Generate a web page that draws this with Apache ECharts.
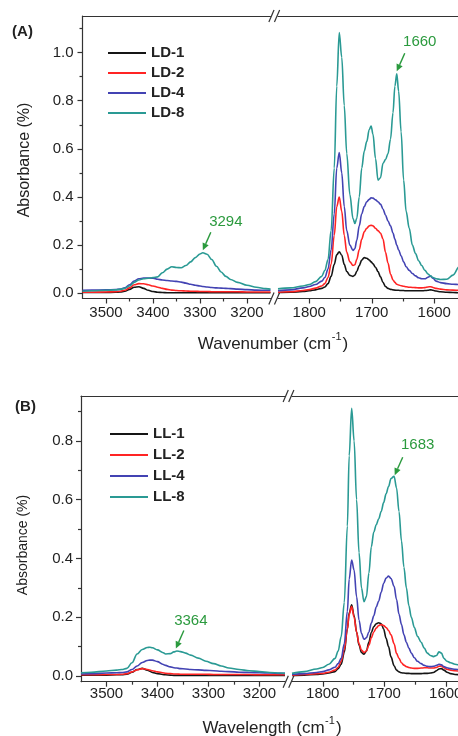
<!DOCTYPE html>
<html><head><meta charset="utf-8">
<script src="https://cdn.jsdelivr.net/npm/echarts@6/dist/echarts.min.js"></script>
<style>html,body{margin:0;padding:0;background:#fff}#c{width:458px;height:736px}</style>
</head><body><div id="c"></div>
<script>
// ---------- DATA ----------
const namesA = ['LD-1','LD-2','LD-4','LD-8'];
const namesB = ['LL-1','LL-2','LL-4','LL-8'];

// Panel A, high-wavenumber segment
const wnA_L = [3550,3530,3500,3480,3470,3460,3450,3440,3430,3420,3410,3400,3390,3380,3370,3360,3350,3340,3330,3320,3310,3300,3294,3285,3275,3265,3255,3245,3235,3220,3200,3180,3160,3150];
const LD1_L = [0.003,0.003,0.003,0.004,0.005,0.008,0.016,0.025,0.027,0.020,0.012,0.007,0.004,0.003,0.002,0.002,0.002,0.002,0.002,0.002,0.002,0.002,0.002,0.002,0.002,0.002,0.002,0.002,0.002,0.002,0.002,0.002,0.002,0.002];
const LD2_L = [0.004,0.004,0.005,0.006,0.008,0.012,0.022,0.035,0.040,0.039,0.035,0.030,0.025,0.020,0.016,0.013,0.011,0.010,0.009,0.008,0.008,0.007,0.007,0.007,0.006,0.006,0.006,0.006,0.006,0.006,0.005,0.005,0.005,0.005];
const LD4_L = [0.012,0.013,0.014,0.015,0.017,0.022,0.035,0.050,0.060,0.063,0.063,0.062,0.058,0.055,0.053,0.051,0.049,0.046,0.042,0.037,0.033,0.030,0.028,0.026,0.024,0.022,0.021,0.020,0.019,0.017,0.015,0.013,0.012,0.012];
const LD8_L = [0.008,0.010,0.012,0.014,0.016,0.020,0.030,0.045,0.055,0.060,0.062,0.065,0.068,0.085,0.100,0.110,0.107,0.106,0.115,0.130,0.148,0.163,0.168,0.162,0.140,0.112,0.088,0.070,0.057,0.045,0.033,0.025,0.019,0.017];

// Panel A, low-wavenumber segment
const wnA_R = [1850,1830,1810,1800,1790,1780,1775,1770,1765,1760,1756,1752,1748,1744,1740,1735,1730,1727,1724,1720,1716,1712,1708,1704,1701,1698,1694,1690,1686,1682,1678,1674,1670,1666,1663,1660,1657,1653,1649,1645,1640,1635,1630,1625,1620,1615,1610,1606,1602,1597,1590,1580,1570,1560,1550];
const LD1_R = [0.003,0.004,0.007,0.010,0.014,0.020,0.026,0.040,0.07,0.12,0.16,0.172,0.158,0.12,0.09,0.074,0.07,0.075,0.09,0.115,0.138,0.148,0.145,0.138,0.13,0.122,0.108,0.09,0.068,0.045,0.028,0.02,0.016,0.014,0.013,0.012,0.012,0.011,0.011,0.01,0.01,0.01,0.01,0.01,0.01,0.011,0.012,0.014,0.012,0.009,0.006,0.004,0.003,0.002,0.002];
const LD2_R = [0.004,0.006,0.011,0.015,0.021,0.030,0.040,0.065,0.12,0.24,0.36,0.40,0.34,0.24,0.17,0.13,0.115,0.118,0.14,0.18,0.225,0.255,0.27,0.28,0.282,0.28,0.27,0.26,0.25,0.225,0.17,0.125,0.08,0.055,0.045,0.037,0.034,0.031,0.029,0.027,0.025,0.024,0.023,0.022,0.022,0.023,0.026,0.027,0.024,0.02,0.017,0.014,0.013,0.012,0.012];
const LD4_R = [0.010,0.014,0.022,0.028,0.036,0.050,0.065,0.10,0.18,0.33,0.52,0.585,0.50,0.36,0.26,0.20,0.178,0.185,0.22,0.28,0.33,0.36,0.38,0.39,0.396,0.395,0.388,0.38,0.37,0.35,0.325,0.30,0.28,0.25,0.225,0.2,0.18,0.155,0.13,0.11,0.095,0.082,0.072,0.064,0.06,0.06,0.066,0.071,0.062,0.05,0.044,0.04,0.037,0.036,0.036];
const LD8_R = [0.018,0.022,0.030,0.036,0.048,0.070,0.095,0.14,0.26,0.52,0.86,1.083,0.98,0.78,0.58,0.41,0.31,0.29,0.31,0.40,0.52,0.59,0.63,0.68,0.695,0.66,0.56,0.47,0.48,0.54,0.555,0.58,0.64,0.75,0.86,0.912,0.84,0.67,0.47,0.34,0.27,0.2,0.165,0.135,0.115,0.095,0.08,0.072,0.065,0.06,0.057,0.058,0.075,0.11,0.15];

// Panel B, high-wavenumber segment
const wnB_L = [3550,3530,3500,3480,3470,3460,3450,3440,3430,3420,3415,3410,3400,3390,3384,3375,3368,3362,3355,3345,3335,3320,3305,3290,3275,3260,3240,3220,3200,3180,3160,3150];
const LL1_L = [0.003,0.003,0.003,0.004,0.004,0.006,0.013,0.022,0.026,0.020,0.016,0.012,0.008,0.005,0.004,0.003,0.002,0.002,0.002,0.002,0.002,0.002,0.002,0.002,0.002,0.002,0.002,0.002,0.002,0.002,0.002,0.002];
const LL2_L = [0.004,0.004,0.005,0.005,0.006,0.008,0.014,0.021,0.025,0.022,0.020,0.018,0.014,0.011,0.009,0.008,0.007,0.007,0.006,0.006,0.006,0.006,0.006,0.005,0.005,0.005,0.005,0.005,0.004,0.004,0.004,0.004];
const LL4_L = [0.007,0.008,0.010,0.011,0.012,0.014,0.022,0.034,0.046,0.053,0.054,0.054,0.049,0.040,0.036,0.031,0.028,0.027,0.025,0.024,0.022,0.021,0.019,0.018,0.016,0.015,0.013,0.012,0.011,0.010,0.009,0.009];
const LL8_L = [0.011,0.013,0.017,0.020,0.022,0.026,0.045,0.075,0.090,0.097,0.098,0.096,0.089,0.080,0.075,0.076,0.082,0.085,0.083,0.078,0.071,0.061,0.050,0.042,0.034,0.027,0.022,0.018,0.015,0.012,0.010,0.009];

// Panel B, low-wavenumber segment
const wnB_R = [1850,1830,1810,1800,1790,1780,1775,1770,1765,1760,1757,1753,1749,1745,1741,1737,1733,1729,1725,1721,1717,1713,1709,1705,1701,1697,1693,1689,1684,1680,1676,1672,1668,1664,1660,1656,1651,1646,1640,1635,1630,1625,1620,1615,1611,1607,1603,1598,1592,1585,1575,1565,1550];
const LL1_R = [0.002,0.003,0.005,0.007,0.01,0.015,0.025,0.04,0.08,0.16,0.215,0.242,0.205,0.15,0.105,0.08,0.074,0.085,0.115,0.148,0.168,0.178,0.181,0.178,0.16,0.128,0.1,0.065,0.035,0.02,0.014,0.011,0.01,0.009,0.009,0.008,0.008,0.008,0.008,0.009,0.009,0.01,0.012,0.018,0.024,0.025,0.02,0.013,0.008,0.005,0.004,0.003,0.003];
const LL2_R = [0.003,0.005,0.008,0.009,0.013,0.020,0.030,0.05,0.09,0.16,0.21,0.236,0.2,0.15,0.11,0.088,0.08,0.085,0.105,0.13,0.15,0.163,0.172,0.175,0.172,0.165,0.155,0.14,0.11,0.077,0.06,0.045,0.037,0.032,0.029,0.027,0.026,0.026,0.027,0.028,0.028,0.027,0.027,0.029,0.033,0.034,0.028,0.023,0.02,0.018,0.016,0.015,0.015];
const LL4_R = [0.005,0.008,0.012,0.015,0.021,0.030,0.042,0.06,0.11,0.22,0.33,0.395,0.36,0.27,0.19,0.145,0.125,0.13,0.15,0.18,0.205,0.235,0.255,0.285,0.315,0.333,0.34,0.332,0.305,0.26,0.21,0.175,0.14,0.115,0.095,0.078,0.062,0.05,0.042,0.036,0.033,0.032,0.033,0.036,0.04,0.038,0.032,0.028,0.025,0.023,0.021,0.02,0.02];
const LL8_R = [0.009,0.015,0.024,0.029,0.040,0.060,0.085,0.134,0.25,0.51,0.75,0.911,0.80,0.60,0.42,0.30,0.253,0.27,0.35,0.44,0.49,0.515,0.535,0.56,0.59,0.62,0.645,0.672,0.68,0.64,0.56,0.46,0.37,0.30,0.24,0.20,0.165,0.135,0.115,0.095,0.078,0.07,0.066,0.07,0.082,0.078,0.06,0.05,0.045,0.04,0.036,0.034,0.034];

// tick labels
const yTicksA = [0, 0.2, 0.4, 0.6, 0.8, 1.0];
const yMinorA = [0.1, 0.3, 0.5, 0.7, 0.9, 1.1];
const yTicksB = [0, 0.2, 0.4, 0.6, 0.8];
const yMinorB = [0.1, 0.3, 0.5, 0.7, 0.9];
const xTicksHigh = [3200, 3300, 3400, 3500];
const xMinorHigh = [3250, 3350, 3450];
const xTicksLow = [1500, 1600, 1700, 1800];
const xMinorLow = [1550, 1650, 1750];

// peak annotations (label = wavenumber, value = absorbance of the marked peak)
const peakWn  = [3294, 1660, 3364, 1683];
const peakVal = [0.168, 0.912, 0.085, 0.675];

// ---------- LAYOUT / STYLE ----------
const FONT = 'Liberation Sans, Arial, sans-serif';
const TXT = '#222';
const AX = '#333';
const colors = ['#151515', '#ff2424', '#4343b3', '#2a9a94'];
const GREEN = '#2b9a3e';

const grids = [
  {left:82.5, top:16,  width:188,    height:282.5, xmin:3150, xmax:3550, ymin:-0.022,  ymax:1.152, xt:xTicksHigh, xm:xMinorHigh, yt:yTicksA, ym:yMinorA, xMargin:7, yMargin:9},
  {left:278,  top:16,  width:218.75, height:282.5, xmin:1500, xmax:1850, ymin:-0.022,  ymax:1.152, xt:xTicksLow,  xm:xMinorLow,  xMargin:7},
  {left:81,   top:396, width:204,    height:285.7, xmin:3150, xmax:3550, ymin:-0.0194, ymax:0.953, xt:xTicksHigh, xm:xMinorHigh, yt:yTicksB, ym:yMinorB, xMargin:5, yMargin:8},
  {left:292,  top:396, width:215.25, height:285.7, xmin:1500, xmax:1850, ymin:-0.0194, ymax:0.953, xt:xTicksLow,  xm:xMinorLow,  xMargin:5}
];

const lineS = {color: AX, width: 1.2};
const xAxis = [], yAxis = [];
const yMainIdx = [];
grids.forEach((g, gi) => {
  xAxis.push({gridIndex:gi, type:'value', inverse:true, min:g.xmin, max:g.xmax, position:'bottom',
    axisLine:{show:true, onZero:false, lineStyle:lineS},
    axisTick:{show:true, inside:false, length:5, customValues:g.xt, lineStyle:lineS},
    axisLabel:{show:true, customValues:g.xt, margin:g.xMargin, color:TXT, fontSize:15, fontFamily:FONT,
      formatter: v => String(Math.round(v)), hideOverlap:false},
    splitLine:{show:false}});
  xAxis.push({gridIndex:gi, type:'value', inverse:true, min:g.xmin, max:g.xmax, position:'bottom',
    axisLine:{show:false, onZero:false},
    axisTick:{show:true, inside:false, length:3, customValues:g.xm, lineStyle:lineS},
    axisLabel:{show:false}, splitLine:{show:false}});
  xAxis.push({gridIndex:gi, type:'value', inverse:true, min:g.xmin, max:g.xmax, position:'top',
    axisLine:{show:true, onZero:false, lineStyle:lineS},
    axisTick:{show:false}, axisLabel:{show:false}, splitLine:{show:false}});
  if (g.yt) {
    yMainIdx.push(yAxis.length);
    yAxis.push({gridIndex:gi, type:'value', min:g.ymin, max:g.ymax, position:'left',
      axisLine:{show:true, onZero:false, lineStyle:lineS},
      axisTick:{show:true, inside:false, length:5, customValues:g.yt, lineStyle:lineS},
      axisLabel:{show:true, customValues:g.yt, margin:g.yMargin, color:TXT, fontSize:15, fontFamily:FONT,
        formatter: v => Number(v).toFixed(1)},
      splitLine:{show:false}});
    yAxis.push({gridIndex:gi, type:'value', min:g.ymin, max:g.ymax, position:'left',
      axisLine:{show:false, onZero:false},
      axisTick:{show:true, inside:false, length:3, customValues:g.ym, lineStyle:lineS},
      axisLabel:{show:false}, splitLine:{show:false}});
  } else {
    yMainIdx.push(yAxis.length);
    yAxis.push({gridIndex:gi, type:'value', min:g.ymin, max:g.ymax, show:false,
      axisLine:{onZero:false}, splitLine:{show:false}});
  }
});

const segs = [
  {g:0, x:wnA_L, names:namesA, ys:[LD1_L, LD2_L, LD4_L, LD8_L]},
  {g:1, x:wnA_R, names:namesA, ys:[LD1_R, LD2_R, LD4_R, LD8_R]},
  {g:2, x:wnB_L, names:namesB, ys:[LL1_L, LL2_L, LL4_L, LL8_L]},
  {g:3, x:wnB_R, names:namesB, ys:[LL1_R, LL2_R, LL4_R, LL8_R]}
];
const series = [];
segs.forEach(s => {
  s.ys.forEach((vals, k) => {
    series.push({
      type:'line', name:s.names[k], xAxisIndex:s.g*3, yAxisIndex:yMainIdx[s.g],
      data: s.x.map((x, i) => [x, vals[i]]),
      showSymbol:false, symbol:'none', smooth:0.35, smoothMonotone:'x',
      color: colors[k], lineStyle:{color:colors[k], width:1.6},
      clip:true, animation:false, silent:true, z: 2 + k
    });
  });
});

const legendBase = {orient:'vertical', icon:'rect', itemWidth:38, itemHeight:2,
  textStyle:{fontSize:15, fontWeight:'bold', color:TXT, fontFamily:FONT, lineHeight:15},
  selectedMode:false, padding:0};

const option = {
  backgroundColor:'#fff',
  animation:false,
  grid: grids.map(g => ({left:g.left, top:g.top, width:g.width, height:g.height,
    containLabel:false, outerBoundsMode:'none'})),
  xAxis, yAxis, series,
  legend: [
    Object.assign({}, legendBase, {data:namesA, left:108, top:45.5, itemGap:5}),
    Object.assign({}, legendBase, {data:namesB, left:110, top:426.5, itemGap:6})
  ]
};

const chart = echarts.init(document.getElementById('c'), null, {renderer:'canvas', width:458, height:736});
chart.setOption(option);

// ---------- decorations: titles, panel letters, axis breaks, peak arrows ----------
const gfx = [];
function txt(x, y, text, size, weight, rot) {
  gfx.push({type:'text', x, y, rotation: rot || 0, silent:true,
    style:{text, fill:TXT, font:(weight||'normal') + ' ' + size + 'px ' + FONT, align:'center', verticalAlign:'middle'}});
}
txt(22.5, 32, '(A)', 15, 'bold');
txt(25.5, 407, '(B)', 15, 'bold');
txt(25, 160, 'Absorbance (%)', 16, 'normal', Math.PI/2);
txt(23, 545, 'Absorbance (%)', 14, 'normal', Math.PI/2);
function xTitle(cx, cy, word, size) {
  // main text + raised superscript placed right after "(cm"
  const main1 = word + ' (cm';
  const sup = '-1';
  const ssize = Math.round(size * 0.62);
  const ctx = document.createElement('canvas').getContext('2d');
  ctx.font = size + 'px Liberation Sans';
  const w1 = ctx.measureText(main1).width, w3 = ctx.measureText(')').width;
  ctx.font = ssize + 'px Liberation Sans';
  const w2 = ctx.measureText(sup).width + 1.5;
  const x0 = cx - (w1 + w2 + w3) / 2;
  gfx.push({type:'text', x:x0, y:cy, silent:true,
    style:{text:main1, fill:TXT, font:size + 'px ' + FONT, align:'left', verticalAlign:'middle'}});
  gfx.push({type:'text', x:x0 + w1 + 0.5, y:cy - size*0.42, silent:true,
    style:{text:sup, fill:TXT, font:ssize + 'px ' + FONT, align:'left', verticalAlign:'middle'}});
  gfx.push({type:'text', x:x0 + w1 + w2, y:cy, silent:true,
    style:{text:')', fill:TXT, font:size + 'px ' + FONT, align:'left', verticalAlign:'middle'}});
}
xTitle(273, 344, 'Wavenumber', 17);
xTitle(272, 728, 'Wavelength', 17);

function brk(cx, y) {
  [-2.8, 2.8].forEach(d => {
    gfx.push({type:'line', silent:true, shape:{x1:cx + d - 2.6, y1:y + 6, x2:cx + d + 2.6, y2:y - 6},
      style:{stroke:AX, lineWidth:1.2}});
  });
}
const midA = (grids[0].left + grids[0].width + grids[1].left) / 2;
const midB = (grids[2].left + grids[2].width + grids[3].left) / 2;
brk(midA, grids[0].top); brk(midA, grids[0].top + grids[0].height);
brk(midB, grids[2].top); brk(midB, grids[2].top + grids[2].height);

const annGrid = [0, 1, 2, 3];
const textOff = [[23,-28],[23,-29],[15,-28],[23,-30]];
peakWn.forEach((wn, i) => {
  const g = annGrid[i];
  const p = chart.convertToPixel({xAxisIndex:g*3, yAxisIndex:yMainIdx[g]}, [wn, peakVal[i]]);
  const tip = [p[0], p[1] - 2.5];
  const tail = [tip[0] + 8, tip[1] - 18];
  const dx = tip[0] - tail[0], dy = tip[1] - tail[1];
  const L = Math.hypot(dx, dy), ux = dx / L, uy = dy / L;
  const hl = 7, hw = 3.3;
  const base = [tip[0] - ux*hl, tip[1] - uy*hl];
  gfx.push({type:'line', silent:true, shape:{x1:tail[0], y1:tail[1], x2:base[0], y2:base[1]},
    style:{stroke:GREEN, lineWidth:1.4}});
  gfx.push({type:'polygon', silent:true, shape:{points:[tip, [base[0] - uy*hw, base[1] + ux*hw], [base[0] + uy*hw, base[1] - ux*hw]]},
    style:{fill:GREEN}});
  gfx.push({type:'text', silent:true, x: tip[0] + textOff[i][0], y: tip[1] + textOff[i][1],
    style:{text:String(wn), fill:GREEN, font:'15px ' + FONT, align:'center', verticalAlign:'middle'}});
});
chart.setOption({graphic: gfx});
</script></body></html>
